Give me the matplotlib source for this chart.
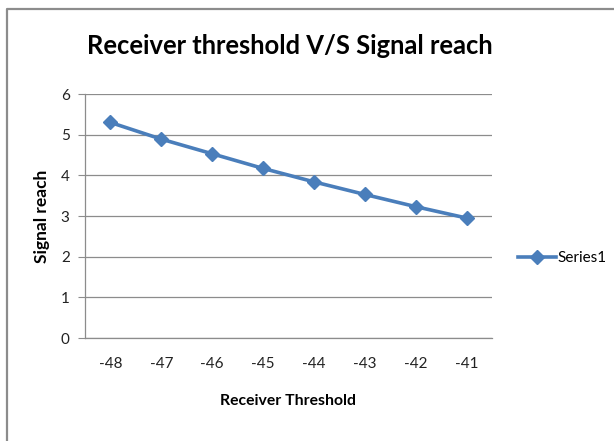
import matplotlib.pyplot as plt
from matplotlib.lines import Line2D

thresholds = [-48, -47, -46, -45, -44, -43, -42, -41]
signal_reach = [5.30, 4.89, 4.53, 4.17, 3.84, 3.53, 3.23, 2.95]
y_ticks = [0, 1, 2, 3, 4, 5, 6]

plt.rcParams['font.family'] = ['Lato', 'DejaVu Sans']

fig = plt.figure(figsize=(6.14, 4.41), dpi=100)
ax = fig.add_axes([85 / 614, 1 - 338 / 441, 407 / 614, 244 / 441])

# chart area border (top and left edges visible)
bx, by = 6.5 / 614, 1 - 8.5 / 441
fig.lines.append(Line2D([bx, bx, 1.0], [0.0, by, by], transform=fig.transFigure,
                        color='#8c8c8c', linewidth=1.6))

xpos = list(range(len(thresholds)))
ax.plot(xpos, signal_reach, color='#4a7ebb', linewidth=2.6, marker='D',
        markersize=7, label='Series1')

ax.set_xlim(-0.5, len(thresholds) - 0.5)
ax.set_ylim(0, 6)
ax.set_yticks(y_ticks)
ax.set_xticks(xpos)
ax.set_xticklabels([str(t) for t in thresholds])
ax.grid(axis='y', color='#8c8c8c', linewidth=0.9)
ax.set_axisbelow(True)

for s in ['top', 'right']:
    ax.spines[s].set_visible(False)
for s in ['left', 'bottom']:
    ax.spines[s].set_color('#8c8c8c')
    ax.spines[s].set_linewidth(0.9)

ax.tick_params(axis='y', length=5, color='#8c8c8c', labelsize=11, pad=6, labelcolor='#222222')
ax.tick_params(axis='x', length=0, labelsize=11, pad=14, labelcolor='#222222')

ax.set_xlabel('Receiver Threshold', fontsize=11.3, fontweight='bold', labelpad=16)
ax.set_ylabel('Signal reach', fontsize=12.5, fontweight='bold', labelpad=8)

fig.text(290 / 614, 1 - 46 / 441, 'Receiver threshold V/S Signal reach',
         fontsize=18.4, fontweight='bold', ha='center', va='center')

fig.legend(loc='center left', bbox_to_anchor=(512 / 614, 1 - 258 / 441),
           frameon=False, fontsize=11, handlelength=2.5, handletextpad=0.1,
           borderaxespad=0)

fig.savefig('out.png', dpi=100)
